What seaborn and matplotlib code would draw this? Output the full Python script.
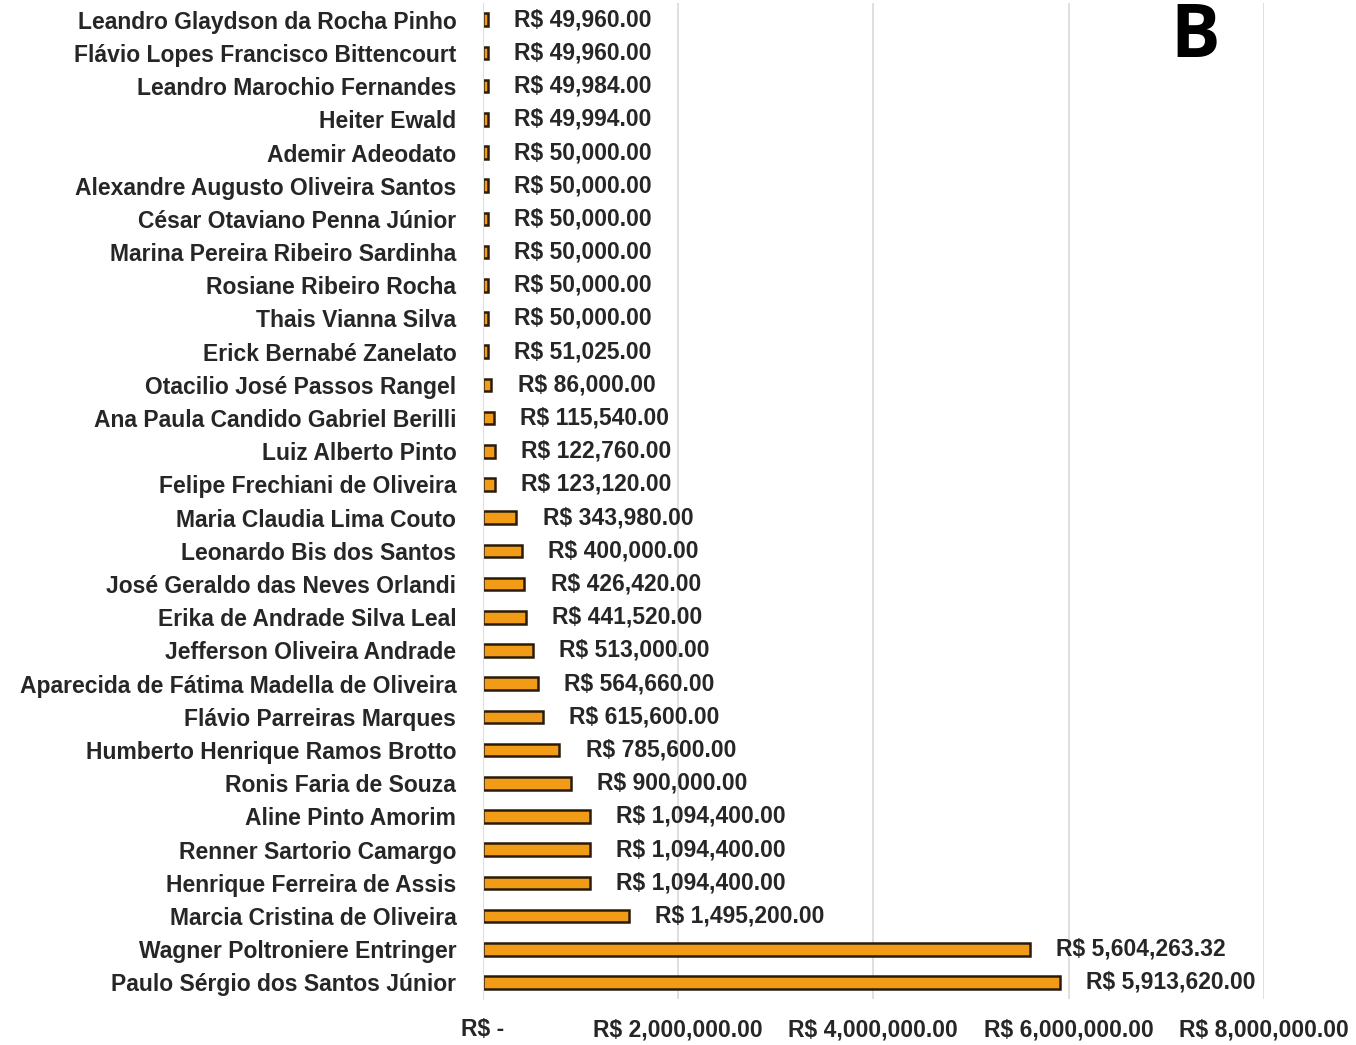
import numpy as np
import pandas as pd
import seaborn as sns
import matplotlib.pyplot as plt
from matplotlib.ticker import FixedLocator, FuncFormatter

# names top -> bottom, as in the chart
names = [
    "Leandro Glaydson da Rocha Pinho",
    "Flávio Lopes Francisco Bittencourt",
    "Leandro Marochio Fernandes",
    "Heiter Ewald",
    "Ademir Adeodato",
    "Alexandre Augusto Oliveira Santos",
    "César Otaviano Penna Júnior",
    "Marina Pereira Ribeiro Sardinha",
    "Rosiane Ribeiro Rocha",
    "Thais Vianna Silva",
    "Erick Bernabé Zanelato",
    "Otacilio José Passos Rangel",
    "Ana Paula Candido Gabriel Berilli",
    "Luiz Alberto Pinto",
    "Felipe Frechiani de Oliveira",
    "Maria Claudia Lima Couto",
    "Leonardo Bis dos Santos",
    "José Geraldo das Neves Orlandi",
    "Erika de Andrade Silva Leal",
    "Jefferson Oliveira Andrade",
    "Aparecida de Fátima Madella de Oliveira",
    "Flávio Parreiras Marques",
    "Humberto Henrique Ramos Brotto",
    "Ronis Faria de Souza",
    "Aline Pinto Amorim",
    "Renner Sartorio Camargo",
    "Henrique Ferreira de Assis",
    "Marcia Cristina de Oliveira",
    "Wagner Poltroniere Entringer",
    "Paulo Sérgio dos Santos Júnior",
]
values = [
    49960.00, 49960.00, 49984.00, 49994.00, 50000.00, 50000.00, 50000.00,
    50000.00, 50000.00, 50000.00, 51025.00, 86000.00, 115540.00, 122760.00,
    123120.00, 343980.00, 400000.00, 426420.00, 441520.00, 513000.00,
    564660.00, 615600.00, 785600.00, 900000.00, 1094400.00, 1094400.00,
    1094400.00, 1495200.00, 5604263.32, 5913620.00,
]
x_ticks = [0, 2000000, 4000000, 6000000, 8000000]

df = pd.DataFrame({"name": names, "value": values})

sns.set_style("white")
plt.rcParams["font.family"] = ["Liberation Sans", "DejaVu Sans"]

fig = plt.figure(figsize=(13.56, 10.45), dpi=100)
ax = fig.add_axes([0.356, 0.044, 0.576, 0.953])

sns.barplot(data=df, x="value", y="name", orient="h", color="#F29B16",
            saturation=1, edgecolor="#2a1a08", linewidth=1.8, width=0.38, ax=ax)

ax.set_xlim(0, 8000000)
ax.set_ylim(len(names) - 0.5, -0.5)
ax.xaxis.set_major_locator(FixedLocator(x_ticks))


def money(v, pos=None):
    if v == 0:
        return "R$ -"
    return "R$ {:,.2f}".format(v)


ax.xaxis.set_major_formatter(FuncFormatter(money))
ax.grid(axis="x", color="#d9d9d9", linewidth=1.2)
ax.set_axisbelow(True)
for s in ["top", "right", "bottom"]:
    ax.spines[s].set_visible(False)
ax.spines["left"].set_color("#e0e0e0")
ax.tick_params(axis="y", length=0, pad=19)
ax.tick_params(axis="x", length=0, pad=14)
ax.set_xlabel("")
ax.set_ylabel("")

for lab in ax.get_yticklabels():
    lab.set_fontsize(16.5)
    lab.set_fontweight("bold")
    lab.set_color("#262626")
for lab in ax.get_xticklabels():
    lab.set_fontsize(16.5)
    lab.set_fontweight("bold")
    lab.set_color("#262626")

# value labels next to bars
for i, v in enumerate(values):
    ax.annotate(money(v), xy=(v, i), xytext=(19, 0), textcoords="offset points",
                va="center", ha="left", fontsize=16.5, fontweight="bold",
                color="#262626")

fig.text(0.881, 0.9455, "B", fontsize=53, fontweight="bold", ha="center",
         va="baseline", color="black", family=["Open Sans", "DejaVu Sans"])

fig.savefig("out.png", dpi=100)
